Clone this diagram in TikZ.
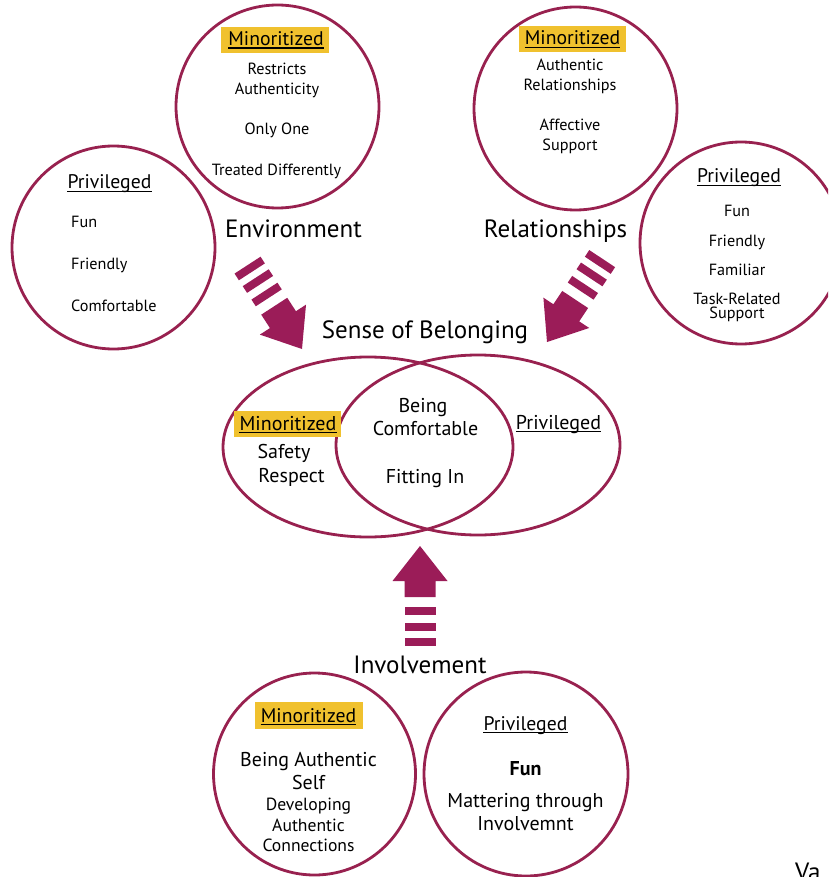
\documentclass[tikz,border=0pt]{standalone}
\usepackage{fontspec}
\setmainfont{PT Sans}
\usetikzlibrary{shapes.geometric}
\definecolor{wine}{HTML}{9B1C58}
\definecolor{ringwine}{HTML}{98214F}
\definecolor{marker}{HTML}{F0C12E}
\newcommand\fsz[1]{\fontsize{#1}{#1}\selectfont}
\newcommand\barredarrow[3]{%
  \begin{scope}[shift={(#1,#2)},rotate=#3]
    \fill[wine] (0,0) -- (-35,27.5) -- (-35,15.5) -- (-51,15.5) -- (-51,-15.5)
      -- (-35,-15.5) -- (-35,-27.5) -- cycle;
    \fill[wine] (-61,-15.5) rectangle (-69,15.5);
    \fill[wine] (-77,-15.5) rectangle (-85,15.5);
    \fill[wine] (-92,-15.5) rectangle (-100,15.5);
  \end{scope}}
\begin{document}
\begin{tikzpicture}[x=1pt,y=-1pt,
  ring/.style={circle,draw=ringwine,line width=2.8pt,inner sep=0pt,minimum size=#1},
  oval/.style={ellipse,draw=ringwine,line width=2.8pt,inner sep=0pt},
  lbl/.style={anchor=base,inner sep=0pt,font=\fsz{16.2}},
  lblw/.style={anchor=base west,inner sep=0pt,font=\fsz{16.2}},
  head/.style={anchor=base,inner sep=0pt,font=\fsz{19.7}},
  mid/.style={anchor=base,inner sep=0pt,font=\fsz{20}},
  sub/.style={anchor=base,inner sep=0pt,font=\fsz{17.6}},
  big/.style={anchor=base,inner sep=0pt,font=\fsz{25}},
  tag/.style={fill=marker,inner sep=0pt,minimum width=#1,minimum height=26pt},
  uline/.style={line width=1.2pt}
]
\useasboundingbox (0,0) rectangle (828,877);
\clip (0,0) rectangle (828,877);

% ---------- Environment ----------
\node[ring=203pt] (envRing) at (277.5,106.5) {};
\node[tag=108pt] (envTag) at (275,40) {};
\node[head] (envMin) at (276,45.5) {Minoritized};
\draw[uline] ([yshift=-2.5pt]envMin.base west) -- ([yshift=-2.5pt]envMin.base east);
\node[lbl] (envA) at (277,75) {Restricts};
\node[lbl] (envB) at (277,95) {Authenticity};
\node[lbl] (envC) at (277,135) {Only One};
\node[lbl] (envD) at (276.5,176) {Treated Differently};

\node[ring=203pt] (envPrivRing) at (113.5,247.5) {};
\node[head] (envPriv) at (109.5,189) {Privileged};
\draw[uline] ([yshift=-2.5pt]envPriv.base west) -- ([yshift=-2.5pt]envPriv.base east);
\node[lblw] (envE) at (71,228) {Fun};
\node[lblw] (envF) at (71,269) {Friendly};
\node[lblw] (envG) at (71,311) {Comfortable};

\node[big] (envLabel) at (293.5,237) {Environment};

% ---------- Relationships ----------
\node[ring=203pt] (relRing) at (575.5,108.5) {};
\node[tag=107pt] (relTag) at (572.5,39.5) {};
\node[head] (relMin) at (572.5,45) {Minoritized};
\draw[uline] ([yshift=-2.5pt]relMin.base west) -- ([yshift=-2.5pt]relMin.base east);
\node[lbl] (relA) at (570,71) {Authentic};
\node[lbl] (relB) at (570,91) {Relationships};
\node[lbl] (relC) at (570,131) {Affective};
\node[lbl] (relD) at (570,151) {Support};

\node[ring=202pt] (relPrivRing) at (741,243) {};
\node[head] (relPriv) at (739,183) {Privileged};
\draw[uline] ([yshift=-2.5pt]relPriv.base west) -- ([yshift=-2.5pt]relPriv.base east);
\node[lbl] (relE) at (737,217) {Fun};
\node[lbl] (relF) at (737,247) {Friendly};
\node[lbl] (relG) at (737,275) {Familiar};
\node[lbl] (relH) at (737,304) {Task-Related};
\node[lbl] (relI) at (737,318.5) {Support};

\node[big] (relLabel) at (555.5,237) {Relationships};

% ---------- Sense of Belonging ----------
\node[big] (belong) at (425,338) {Sense of Belonging};
\node[oval,minimum width=290pt,minimum height=180pt] (vennL) at (368,447) {};
\node[oval,minimum width=284pt,minimum height=180pt] (vennR) at (478,445) {};
\node[tag=107pt] (vTag) at (287.5,424) {};
\node[mid] (vMin) at (288,430) {Minoritized};
\draw[uline] ([yshift=-2.5pt]vMin.base west) -- ([yshift=-2.5pt]vMin.base east);
\node[mid] (vA) at (284,458) {Safety};
\node[mid] (vB) at (291.5,482) {Respect};
\node[mid] (vC) at (423,412) {Being};
\node[mid] (vD) at (425.5,435) {Comfortable};
\node[mid] (vE) at (425,483) {Fitting In};
\node[mid] (vPriv) at (558.5,429) {Privileged};
\draw[uline] ([yshift=-2.5pt]vPriv.base west) -- ([yshift=-2.5pt]vPriv.base east);

% ---------- Involvement ----------
\node[big] (invLabel) at (420,673) {Involvement};
\node[ring=202pt] (invRing) at (314.5,774) {};
\node[tag=108pt,minimum height=27pt] (iTag) at (309,715.5) {};
\node[head] (iMin) at (308.5,722) {Minoritized};
\draw[uline] ([yshift=-2.5pt]iMin.base west) -- ([yshift=-2.5pt]iMin.base east);
\node[mid] (iA) at (308.5,766) {Being Authentic};
\node[mid] (iB) at (308.5,789) {Self};
\node[sub] (iC) at (308.5,810) {Developing};
\node[sub] (iD) at (308.5,831) {Authentic};
\node[sub] (iE) at (308.5,851) {Connections};

\node[ring=204pt] (invPrivRing) at (526,774) {};
\node[head] (iPriv) at (525.5,730) {Privileged};
\draw[uline] ([yshift=-2.5pt]iPriv.base west) -- ([yshift=-2.5pt]iPriv.base east);
\node[mid,font=\fsz{20}\bfseries] (iF) at (525.5,775) {Fun};
\node[mid] (iG) at (525.5,807) {Mattering through};
\node[mid] (iH) at (525.5,830) {Involvemnt};

\node[big,anchor=base west] (corner) at (795,880) {Va};

% ---------- striped arrows ----------
\barredarrow{302}{349}{-57}
\barredarrow{547}{342}{-123.5}
\barredarrow{420}{546}{90}
\end{tikzpicture}
\end{document}
